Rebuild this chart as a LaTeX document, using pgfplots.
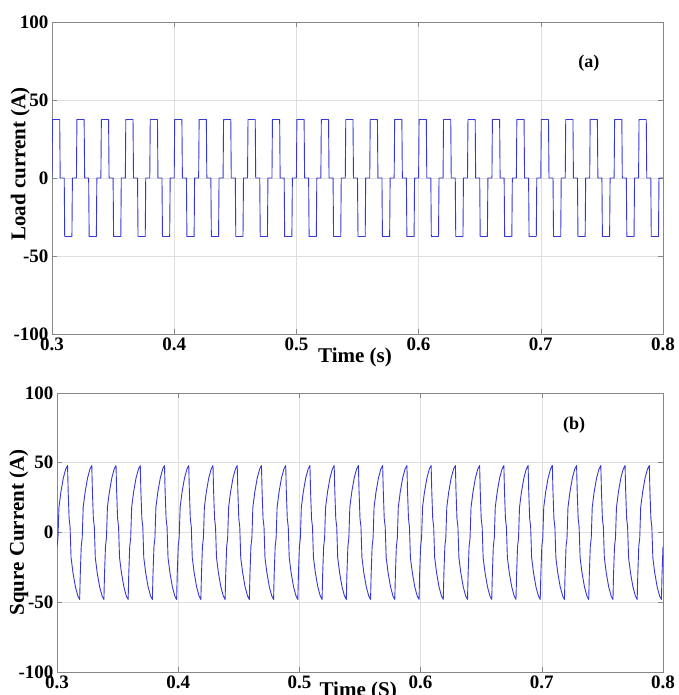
\documentclass[border=0pt]{standalone}
\usepackage{fontspec}
\setmainfont{Liberation Serif}
\usepackage{pgfplots}
\pgfplotsset{compat=1.18}
\definecolor{wave}{RGB}{55,55,215}
\definecolor{boxgray}{RGB}{135,135,135}
\definecolor{gridgray}{RGB}{222,222,222}
\pgfplotsset{
  panel/.style={
    scale only axis,
    xmin=0.3, xmax=0.8, ymin=-100, ymax=100,
    xtick={0.3,0.4,0.5,0.6,0.7,0.8},
    xticklabels={0.3,0.4,0.5,0.6,0.7,0.8},
    ytick={-100,-50,0,50,100},
    yticklabels={-100,-50,0,50,100},
    grid=major,
    major grid style={draw=gridgray, line width=0.6pt},
    axis line style={draw=boxgray, line width=0.8pt},
    tick style={draw=boxgray, line width=0.6pt},
    tick align=inside, major tick length=5pt,
    ticklabel style={font=\fontsize{19}{19}\selectfont\bfseries, text=black},
    label style={font=\fontsize{21}{21}\selectfont\bfseries, text=black},
  },
  wavestyle/.style={draw=wave, line width=0.9pt, mark=none, line join=round},
}
\begin{document}
\begin{tikzpicture}
\useasboundingbox (0pt,0pt) rectangle (678pt,695pt);
% ---------- (a) load current ----------
\begin{axis}[panel,
  at={(52pt,361pt)}, anchor=south west,
  width=611pt, height=312pt,
  xlabel={Time (s)},
  xlabel style={at={(axis description cs:0.496,-0.074)}, anchor=center},
  ylabel={Load current (A)},
  ylabel style={at={(axis description cs:-0.052,0.545)}, anchor=center},
]
\addplot[wavestyle] coordinates {
(0.3000,0)(0.3004,37.5)(0.3063,37.5)(0.3067,0)(0.3100,0)(0.3104,-37.5)(0.3163,-37.5)(0.3167,0)
(0.3200,0)(0.3204,37.5)(0.3263,37.5)(0.3267,0)(0.3300,0)(0.3304,-37.5)(0.3363,-37.5)(0.3367,0)
(0.3400,0)(0.3404,37.5)(0.3463,37.5)(0.3467,0)(0.3500,0)(0.3504,-37.5)(0.3563,-37.5)(0.3567,0)
(0.3600,0)(0.3604,37.5)(0.3663,37.5)(0.3667,0)(0.3700,0)(0.3704,-37.5)(0.3763,-37.5)(0.3767,0)
(0.3800,0)(0.3804,37.5)(0.3863,37.5)(0.3867,0)(0.3900,0)(0.3904,-37.5)(0.3963,-37.5)(0.3967,0)
(0.4000,0)(0.4004,37.5)(0.4063,37.5)(0.4067,0)(0.4100,0)(0.4104,-37.5)(0.4163,-37.5)(0.4167,0)
(0.4200,0)(0.4204,37.5)(0.4263,37.5)(0.4267,0)(0.4300,0)(0.4304,-37.5)(0.4363,-37.5)(0.4367,0)
(0.4400,0)(0.4404,37.5)(0.4463,37.5)(0.4467,0)(0.4500,0)(0.4504,-37.5)(0.4563,-37.5)(0.4567,0)
(0.4600,0)(0.4604,37.5)(0.4663,37.5)(0.4667,0)(0.4700,0)(0.4704,-37.5)(0.4763,-37.5)(0.4767,0)
(0.4800,0)(0.4804,37.5)(0.4863,37.5)(0.4867,0)(0.4900,0)(0.4904,-37.5)(0.4963,-37.5)(0.4967,0)
(0.5000,0)(0.5004,37.5)(0.5063,37.5)(0.5067,0)(0.5100,0)(0.5104,-37.5)(0.5163,-37.5)(0.5167,0)
(0.5200,0)(0.5204,37.5)(0.5263,37.5)(0.5267,0)(0.5300,0)(0.5304,-37.5)(0.5363,-37.5)(0.5367,0)
(0.5400,0)(0.5404,37.5)(0.5463,37.5)(0.5467,0)(0.5500,0)(0.5504,-37.5)(0.5563,-37.5)(0.5567,0)
(0.5600,0)(0.5604,37.5)(0.5663,37.5)(0.5667,0)(0.5700,0)(0.5704,-37.5)(0.5763,-37.5)(0.5767,0)
(0.5800,0)(0.5804,37.5)(0.5863,37.5)(0.5867,0)(0.5900,0)(0.5904,-37.5)(0.5963,-37.5)(0.5967,0)
(0.6000,0)(0.6004,37.5)(0.6063,37.5)(0.6067,0)(0.6100,0)(0.6104,-37.5)(0.6163,-37.5)(0.6167,0)
(0.6200,0)(0.6204,37.5)(0.6263,37.5)(0.6267,0)(0.6300,0)(0.6304,-37.5)(0.6363,-37.5)(0.6367,0)
(0.6400,0)(0.6404,37.5)(0.6463,37.5)(0.6467,0)(0.6500,0)(0.6504,-37.5)(0.6563,-37.5)(0.6567,0)
(0.6600,0)(0.6604,37.5)(0.6663,37.5)(0.6667,0)(0.6700,0)(0.6704,-37.5)(0.6763,-37.5)(0.6767,0)
(0.6800,0)(0.6804,37.5)(0.6863,37.5)(0.6867,0)(0.6900,0)(0.6904,-37.5)(0.6963,-37.5)(0.6967,0)
(0.7000,0)(0.7004,37.5)(0.7063,37.5)(0.7067,0)(0.7100,0)(0.7104,-37.5)(0.7163,-37.5)(0.7167,0)
(0.7200,0)(0.7204,37.5)(0.7263,37.5)(0.7267,0)(0.7300,0)(0.7304,-37.5)(0.7363,-37.5)(0.7367,0)
(0.7400,0)(0.7404,37.5)(0.7463,37.5)(0.7467,0)(0.7500,0)(0.7504,-37.5)(0.7563,-37.5)(0.7567,0)
(0.7600,0)(0.7604,37.5)(0.7663,37.5)(0.7667,0)(0.7700,0)(0.7704,-37.5)(0.7763,-37.5)(0.7767,0)
(0.7800,0)(0.7804,37.5)(0.7863,37.5)(0.7867,0)(0.7900,0)(0.7904,-37.5)(0.7963,-37.5)(0.7967,0)
(0.8000,0)
};
\node[font=\fontsize{18}{18}\selectfont\bfseries] at (axis cs:0.7394,73.7) {(a)};
\end{axis}
% ---------- (b) source current ----------
\begin{axis}[panel,
  at={(57pt,23pt)}, anchor=south west,
  width=606pt, height=279pt,
  xlabel={Time (S)},
  xlabel style={at={(axis description cs:0.497,-0.068)}, anchor=center},
  ylabel={Squre Current (A)},
  ylabel style={at={(axis description cs:-0.063,0.5)}, anchor=center},
]
\addplot[wavestyle] coordinates {
(0.3000,-10)(0.3008,-4)(0.3016,18)(0.3032,29)(0.3052,39)(0.3072,45.5)(0.3087,48)(0.3092,30)(0.3100,10)(0.3108,4)(0.3116,-18)(0.3132,-29)(0.3152,-39)(0.3172,-45.5)(0.3187,-48)(0.3192,-30)
(0.3200,-10)(0.3208,-4)(0.3216,18)(0.3232,29)(0.3252,39)(0.3272,45.5)(0.3287,48)(0.3292,30)(0.3300,10)(0.3308,4)(0.3316,-18)(0.3332,-29)(0.3352,-39)(0.3372,-45.5)(0.3387,-48)(0.3392,-30)
(0.3400,-10)(0.3408,-4)(0.3416,18)(0.3432,29)(0.3452,39)(0.3472,45.5)(0.3487,48)(0.3492,30)(0.3500,10)(0.3508,4)(0.3516,-18)(0.3532,-29)(0.3552,-39)(0.3572,-45.5)(0.3587,-48)(0.3592,-30)
(0.3600,-10)(0.3608,-4)(0.3616,18)(0.3632,29)(0.3652,39)(0.3672,45.5)(0.3687,48)(0.3692,30)(0.3700,10)(0.3708,4)(0.3716,-18)(0.3732,-29)(0.3752,-39)(0.3772,-45.5)(0.3787,-48)(0.3792,-30)
(0.3800,-10)(0.3808,-4)(0.3816,18)(0.3832,29)(0.3852,39)(0.3872,45.5)(0.3887,48)(0.3892,30)(0.3900,10)(0.3908,4)(0.3916,-18)(0.3932,-29)(0.3952,-39)(0.3972,-45.5)(0.3987,-48)(0.3992,-30)
(0.4000,-10)(0.4008,-4)(0.4016,18)(0.4032,29)(0.4052,39)(0.4072,45.5)(0.4087,48)(0.4092,30)(0.4100,10)(0.4108,4)(0.4116,-18)(0.4132,-29)(0.4152,-39)(0.4172,-45.5)(0.4187,-48)(0.4192,-30)
(0.4200,-10)(0.4208,-4)(0.4216,18)(0.4232,29)(0.4252,39)(0.4272,45.5)(0.4287,48)(0.4292,30)(0.4300,10)(0.4308,4)(0.4316,-18)(0.4332,-29)(0.4352,-39)(0.4372,-45.5)(0.4387,-48)(0.4392,-30)
(0.4400,-10)(0.4408,-4)(0.4416,18)(0.4432,29)(0.4452,39)(0.4472,45.5)(0.4487,48)(0.4492,30)(0.4500,10)(0.4508,4)(0.4516,-18)(0.4532,-29)(0.4552,-39)(0.4572,-45.5)(0.4587,-48)(0.4592,-30)
(0.4600,-10)(0.4608,-4)(0.4616,18)(0.4632,29)(0.4652,39)(0.4672,45.5)(0.4687,48)(0.4692,30)(0.4700,10)(0.4708,4)(0.4716,-18)(0.4732,-29)(0.4752,-39)(0.4772,-45.5)(0.4787,-48)(0.4792,-30)
(0.4800,-10)(0.4808,-4)(0.4816,18)(0.4832,29)(0.4852,39)(0.4872,45.5)(0.4887,48)(0.4892,30)(0.4900,10)(0.4908,4)(0.4916,-18)(0.4932,-29)(0.4952,-39)(0.4972,-45.5)(0.4987,-48)(0.4992,-30)
(0.5000,-10)(0.5008,-4)(0.5016,18)(0.5032,29)(0.5052,39)(0.5072,45.5)(0.5087,48)(0.5092,30)(0.5100,10)(0.5108,4)(0.5116,-18)(0.5132,-29)(0.5152,-39)(0.5172,-45.5)(0.5187,-48)(0.5192,-30)
(0.5200,-10)(0.5208,-4)(0.5216,18)(0.5232,29)(0.5252,39)(0.5272,45.5)(0.5287,48)(0.5292,30)(0.5300,10)(0.5308,4)(0.5316,-18)(0.5332,-29)(0.5352,-39)(0.5372,-45.5)(0.5387,-48)(0.5392,-30)
(0.5400,-10)(0.5408,-4)(0.5416,18)(0.5432,29)(0.5452,39)(0.5472,45.5)(0.5487,48)(0.5492,30)(0.5500,10)(0.5508,4)(0.5516,-18)(0.5532,-29)(0.5552,-39)(0.5572,-45.5)(0.5587,-48)(0.5592,-30)
(0.5600,-10)(0.5608,-4)(0.5616,18)(0.5632,29)(0.5652,39)(0.5672,45.5)(0.5687,48)(0.5692,30)(0.5700,10)(0.5708,4)(0.5716,-18)(0.5732,-29)(0.5752,-39)(0.5772,-45.5)(0.5787,-48)(0.5792,-30)
(0.5800,-10)(0.5808,-4)(0.5816,18)(0.5832,29)(0.5852,39)(0.5872,45.5)(0.5887,48)(0.5892,30)(0.5900,10)(0.5908,4)(0.5916,-18)(0.5932,-29)(0.5952,-39)(0.5972,-45.5)(0.5987,-48)(0.5992,-30)
(0.6000,-10)(0.6008,-4)(0.6016,18)(0.6032,29)(0.6052,39)(0.6072,45.5)(0.6087,48)(0.6092,30)(0.6100,10)(0.6108,4)(0.6116,-18)(0.6132,-29)(0.6152,-39)(0.6172,-45.5)(0.6187,-48)(0.6192,-30)
(0.6200,-10)(0.6208,-4)(0.6216,18)(0.6232,29)(0.6252,39)(0.6272,45.5)(0.6287,48)(0.6292,30)(0.6300,10)(0.6308,4)(0.6316,-18)(0.6332,-29)(0.6352,-39)(0.6372,-45.5)(0.6387,-48)(0.6392,-30)
(0.6400,-10)(0.6408,-4)(0.6416,18)(0.6432,29)(0.6452,39)(0.6472,45.5)(0.6487,48)(0.6492,30)(0.6500,10)(0.6508,4)(0.6516,-18)(0.6532,-29)(0.6552,-39)(0.6572,-45.5)(0.6587,-48)(0.6592,-30)
(0.6600,-10)(0.6608,-4)(0.6616,18)(0.6632,29)(0.6652,39)(0.6672,45.5)(0.6687,48)(0.6692,30)(0.6700,10)(0.6708,4)(0.6716,-18)(0.6732,-29)(0.6752,-39)(0.6772,-45.5)(0.6787,-48)(0.6792,-30)
(0.6800,-10)(0.6808,-4)(0.6816,18)(0.6832,29)(0.6852,39)(0.6872,45.5)(0.6887,48)(0.6892,30)(0.6900,10)(0.6908,4)(0.6916,-18)(0.6932,-29)(0.6952,-39)(0.6972,-45.5)(0.6987,-48)(0.6992,-30)
(0.7000,-10)(0.7008,-4)(0.7016,18)(0.7032,29)(0.7052,39)(0.7072,45.5)(0.7087,48)(0.7092,30)(0.7100,10)(0.7108,4)(0.7116,-18)(0.7132,-29)(0.7152,-39)(0.7172,-45.5)(0.7187,-48)(0.7192,-30)
(0.7200,-10)(0.7208,-4)(0.7216,18)(0.7232,29)(0.7252,39)(0.7272,45.5)(0.7287,48)(0.7292,30)(0.7300,10)(0.7308,4)(0.7316,-18)(0.7332,-29)(0.7352,-39)(0.7372,-45.5)(0.7387,-48)(0.7392,-30)
(0.7400,-10)(0.7408,-4)(0.7416,18)(0.7432,29)(0.7452,39)(0.7472,45.5)(0.7487,48)(0.7492,30)(0.7500,10)(0.7508,4)(0.7516,-18)(0.7532,-29)(0.7552,-39)(0.7572,-45.5)(0.7587,-48)(0.7592,-30)
(0.7600,-10)(0.7608,-4)(0.7616,18)(0.7632,29)(0.7652,39)(0.7672,45.5)(0.7687,48)(0.7692,30)(0.7700,10)(0.7708,4)(0.7716,-18)(0.7732,-29)(0.7752,-39)(0.7772,-45.5)(0.7787,-48)(0.7792,-30)
(0.7800,-10)(0.7808,-4)(0.7816,18)(0.7832,29)(0.7852,39)(0.7872,45.5)(0.7887,48)(0.7892,30)(0.7900,10)(0.7908,4)(0.7916,-18)(0.7932,-29)(0.7952,-39)(0.7972,-45.5)(0.7987,-48)(0.7992,-30)
(0.8000,-10)
};
\node[font=\fontsize{18}{18}\selectfont\bfseries] at (axis cs:0.7266,77.1) {(b)};
\end{axis}
\end{tikzpicture}
\end{document}
